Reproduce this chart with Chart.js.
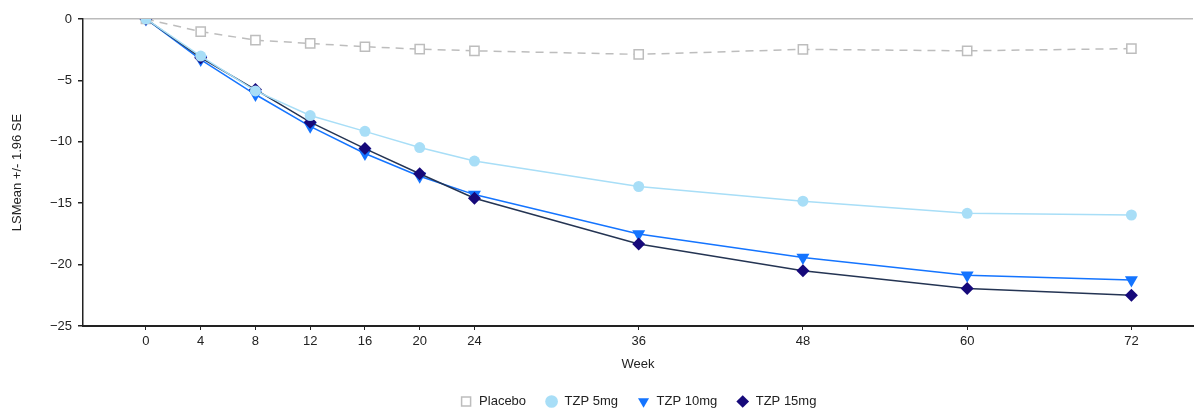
<!DOCTYPE html>
<html>
<head>
<meta charset="utf-8">
<script src="https://cdn.jsdelivr.net/npm/chart.js@4/dist/chart.umd.min.js"></script>
<style>
  html, body { margin: 0; padding: 0; background: #fff; overflow: hidden; }
  canvas { display: block; }
</style>
</head>
<body>
<canvas id="lsmean" width="1201" height="410"></canvas>
<script>
// study weeks and least-squares mean change per arm
const weeks = [0, 4, 8, 12, 16, 20, 24, 36, 48, 60, 72];
const placebo = [0, -1.03, -1.72, -1.99, -2.26, -2.45, -2.59, -2.88, -2.47, -2.59, -2.41];
const tzp5 = [0, -3.02, -5.86, -7.86, -9.15, -10.47, -11.57, -13.64, -14.84, -15.82, -15.96];
const tzp10 = [0, -3.3, -6.15, -8.74, -10.95, -12.8, -14.3, -17.5, -19.42, -20.86, -21.26];
const tzp15 = [0, -3.15, -5.75, -8.4, -10.55, -12.6, -14.6, -18.33, -20.5, -21.95, -22.5];
const yTicks = [0, -5, -10, -15, -20, -25];

const font = "'Liberation Sans', Arial, sans-serif";
const toPoints = arr => weeks.map((w, i) => ({ x: w, y: arr[i] }));

const ctx = document.getElementById("lsmean").getContext("2d");
new Chart(ctx, {
    type: "line",
    data: {
        datasets: [
            {
                label: "Placebo",
                data: toPoints(placebo),
                borderColor: "#BDBDBD",
                borderWidth: 1.5,
                borderDash: [8, 6],
                pointStyle: "rect",
                pointRadius: 6.5,
                pointBorderWidth: 1.5,
                pointBorderColor: "#BDBDBD",
                pointBackgroundColor: "#fff",
                order: 4,
            },
            {
                label: "TZP 5mg",
                data: toPoints(tzp5),
                borderColor: "#A8DEF7",
                borderWidth: 1.5,
                pointStyle: "circle",
                pointRadius: 5.5,
                pointBorderWidth: 0,
                pointBackgroundColor: "#A8DEF7",
                order: 1,
            },
            {
                label: "TZP 10mg",
                data: toPoints(tzp10),
                borderColor: "#1474FF",
                borderWidth: 1.5,
                pointStyle: "triangle",
                pointRotation: 180,
                pointRadius: 7.5,
                pointBorderWidth: 0,
                pointBackgroundColor: "#1474FF",
                order: 3,
            },
            {
                label: "TZP 15mg",
                data: toPoints(tzp15),
                borderColor: "#243453",
                borderWidth: 1.5,
                pointStyle: "rectRot",
                pointRadius: 6.5,
                pointBorderWidth: 0,
                pointBackgroundColor: "#16097A",
                order: 2,
            },
        ],
    },
    options: {
        responsive: false,
        animation: false,
        // negative bottom padding lets the legend's inner padding hang off the canvas edge
        layout: { padding: { top: 19, right: 0, left: 0, bottom: -8 } },
        plugins: {
            tooltip: { enabled: false },
            legend: {
                position: "bottom",
                fullSize: false,
                labels: {
                    usePointStyle: true,
                    boxHeight: 9,
                    padding: 19,
                    color: "#222",
                    font: { family: font, size: 13 },
                    sort: (a, b) => a.datasetIndex - b.datasetIndex,
                },
            },
        },
        scales: {
            x: {
                type: "linear",
                min: -4.6,
                max: 76.5,
                afterBuildTicks: scale => {
                    scale.ticks = weeks.map(v => ({ value: v }));
                },
                afterFit: scale => {
                    scale.height = 50;
                    // the axis runs to the canvas edge, no room reserved for end labels
                    scale.paddingLeft = 0;
                    scale.paddingRight = 0;
                },
                border: { color: "#222", width: 2 },
                grid: { drawOnChartArea: false, tickLength: 4, tickColor: "#222" },
                ticks: { color: "#222", font: { family: font, size: 13 }, padding: 4, maxRotation: 0 },
                title: { display: true, text: "Week", color: "#222", font: { family: font, size: 13 }, padding: { top: 8, bottom: 4 } },
            },
            y: {
                min: -25,
                max: 0,
                afterBuildTicks: scale => {
                    scale.ticks = yTicks.map(v => ({ value: v }));
                },
                afterFit: scale => { scale.width = 83; },
                border: { color: "#222", width: 1.5 },
                grid: {
                    color: c => (c.tick && c.tick.value === 0 ? "#BBBBBB" : "transparent"),
                    lineWidth: 1.5,
                    tickLength: 5,
                    tickColor: "#222",
                },
                ticks: {
                    color: "#222",
                    font: { family: font, size: 13 },
                    padding: 6,
                    callback: v => (v < 0 ? "\u2212" + Math.abs(v) : String(v)),
                },
                title: { display: true, text: "LSMean +/- 1.96 SE", color: "#222", font: { family: font, size: 13 }, padding: { top: 10, bottom: 4 } },
            },
        },
    },
});
</script>
</body>
</html>
